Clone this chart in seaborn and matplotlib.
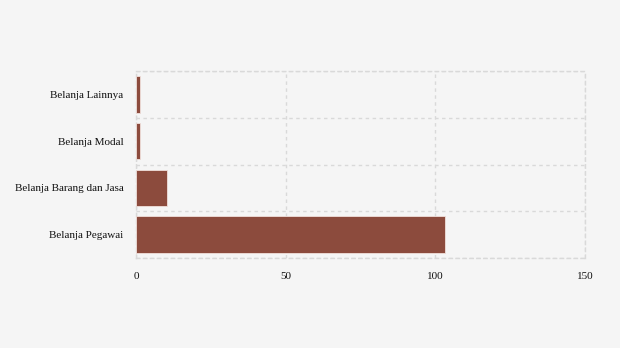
import matplotlib
matplotlib.use("Agg")
import matplotlib.pyplot as plt
import seaborn as sns
import pandas as pd
import numpy as np

categories = ["Belanja Lainnya", "Belanja Modal", "Belanja Barang dan Jasa", "Belanja Pegawai"]
values = [1.3, 1.3, 10.5, 103.2]
xticks = [0, 50, 100, 150]

sns.set_theme(style="white")
plt.rcParams['font.family'] = ['Liberation Serif', 'DejaVu Serif']

df = pd.DataFrame({"kategori": categories, "nilai": values})

fig = plt.figure(figsize=(6.2, 3.48), dpi=100, facecolor="#f5f5f5")
ax = fig.add_axes([136/620, 1-258/348, (585-136)/620, (258-71)/348])
ax.set_facecolor("#f5f5f5")

sns.barplot(data=df, y="kategori", x="nilai", orient="h", color="#8c4b3d",
            saturation=1, width=0.78, edgecolor="#f0e0dc", linewidth=0.6, ax=ax)

ax.set_xlim(0, 150)
ax.set_ylim(len(categories) - 0.5, -0.5)
ax.set_xticks(xticks)
ax.set_xticklabels([str(t) for t in xticks])
ax.set_yticks(np.arange(-0.5, len(categories), 1.0), minor=True)
ax.set_xlabel("")
ax.set_ylabel("")

dash = (0, (2.5, 2.5))
gcol = "#d9d9d9"
ax.grid(True, axis="x", which="major", color=gcol, linestyle=dash, linewidth=1)
ax.grid(True, axis="y", which="minor", color=gcol, linestyle=dash, linewidth=1)
ax.grid(False, axis="y", which="major")
ax.set_axisbelow(True)

for s in ax.spines.values():
    s.set_visible(True)
    s.set_color(gcol)
    s.set_linestyle(dash)
    s.set_linewidth(1)
    s.set_zorder(0.5)

ax.tick_params(axis="y", which="major", length=4, color="#cccccc", width=0.8,
               labelsize=8, labelcolor="#111111", pad=5)
ax.tick_params(axis="y", which="minor", length=0)
ax.tick_params(axis="x", length=0, labelsize=8, labelcolor="#111111", pad=10)

fig.savefig("out.png", dpi=100, facecolor="#f5f5f5")
